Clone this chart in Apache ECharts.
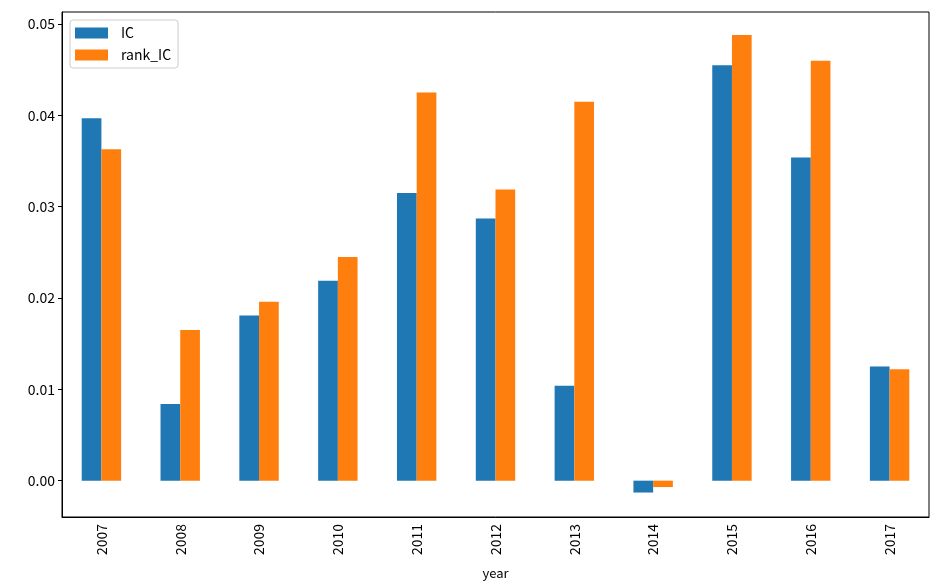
<!DOCTYPE html>
<html>
<head>
<meta charset="utf-8">
<script src="https://cdn.jsdelivr.net/npm/echarts@6/dist/echarts.min.js"></script>
<style>html,body{margin:0;padding:0;background:#fff;}#c{width:939px;height:585px;}</style>
</head>
<body>
<div id="c"></div>
<script>
var years = ['2007','2008','2009','2010','2011','2012','2013','2014','2015','2016','2017'];
var icValues = [0.0397, 0.0084, 0.0181, 0.0219, 0.0315, 0.0287, 0.0104, -0.0013, 0.0455, 0.0354, 0.0125];
var rankIcValues = [0.0363, 0.0165, 0.0196, 0.0245, 0.0425, 0.0319, 0.0415, -0.0007, 0.0488, 0.0460, 0.0122];
var yTickMin = 0, yTickMax = 0.05, yTickStep = 0.01;
var yMin = -0.00398, yMax = 0.05133;

var FONT = '"Noto Sans CJK SC", "Noto Sans", sans-serif';
var chart = echarts.init(document.getElementById('c'), null, {renderer: 'canvas'});
chart.setOption({
  animation: false,
  textStyle: {fontFamily: FONT},
  grid: [
    {left: 62, right: 10, top: 12, bottom: 68, show: true, borderColor: '#000', borderWidth: 1,
     backgroundColor: 'transparent', containLabel: false, outerBoundsMode: 'none'},
    {left: 62, right: 10, top: 24, height: 456.7, show: false, containLabel: false, outerBoundsMode: 'none'}
  ],
  legend: {
    orient: 'vertical', left: 70, top: 20,
    padding: [6, 7, 6, 5],
    itemWidth: 33, itemHeight: 11, itemGap: 8,
    borderColor: '#cccccc', borderWidth: 1, borderRadius: 3,
    backgroundColor: 'rgba(255,255,255,0.8)',
    textStyle: {fontFamily: FONT, fontSize: 14, color: '#000', padding: [0, 0, 0, 8]},
    icon: 'rect',
    data: ['IC', 'rank_IC']
  },
  xAxis: [
    {
      type: 'category', data: years, gridIndex: 0,
      boundaryGap: true,
      axisLine: {onZero: false, lineStyle: {color: '#000', width: 1}},
      axisTick: {alignWithLabel: true, length: 4, lineStyle: {color: '#000'}},
      axisLabel: {rotate: 90, fontFamily: FONT, fontSize: 14, color: '#000', margin: 7},
      name: 'year', nameLocation: 'middle', nameGap: 50,
      nameTextStyle: {fontFamily: FONT, fontSize: 13, color: '#000'},
      splitLine: {show: false}
    },
    {type: 'category', data: years, gridIndex: 1, show: false}
  ],
  yAxis: [
    {
      type: 'value', gridIndex: 0, min: yMin, max: yMax,
      axisLine: {show: true, lineStyle: {color: '#000'}},
      axisTick: {show: false}, axisLabel: {show: false}, splitLine: {show: false}
    },
    {
      type: 'value', gridIndex: 1, min: yTickMin, max: yTickMax, interval: yTickStep,
      axisLine: {show: false},
      axisTick: {show: true, length: 4, lineStyle: {color: '#000'}},
      axisLabel: {fontFamily: FONT, fontSize: 14, color: '#000', margin: 7,
        formatter: function (v) { return v.toFixed(2); }},
      splitLine: {show: false}
    }
  ],
  series: [
    {name: 'IC', type: 'bar', xAxisIndex: 0, yAxisIndex: 0, data: icValues,
     barWidth: '25%', barGap: '0%', itemStyle: {color: '#1f77b4'}},
    {name: 'rank_IC', type: 'bar', xAxisIndex: 0, yAxisIndex: 0, data: rankIcValues,
     barWidth: '25%', barGap: '0%', itemStyle: {color: '#ff7f0e'}}
  ]
});
</script>
</body>
</html>
